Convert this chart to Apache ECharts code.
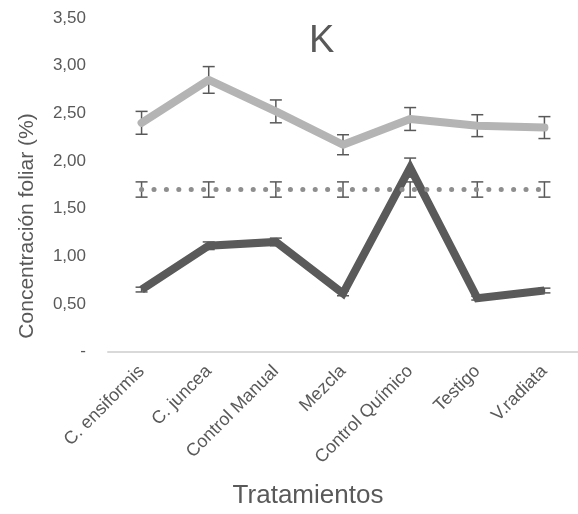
<!DOCTYPE html>
<html>
<head>
<meta charset="utf-8">
<script src="https://cdn.jsdelivr.net/npm/echarts@6/dist/echarts.min.js"></script>
<style>html,body{margin:0;padding:0;background:#fff}#c{width:578px;height:514px}</style>
</head>
<body>
<div id="c"></div>
<script>
var categories = ['C. ensiformis','C. juncea','Control Manual','Mezcla','Control Químico','Testigo','V.radiata'];
var lightValues = [2.40, 2.85, 2.52, 2.17, 2.44, 2.37, 2.35];
var lightErrors = [0.12, 0.14, 0.12, 0.105, 0.12, 0.115, 0.115];
var dottedValues = [1.70, 1.70, 1.70, 1.70, 1.70, 1.70, 1.70];
var dottedErrors = [0.08, 0.08, 0.08, 0.08, 0.08, 0.08, 0.08];
var darkValues = [0.65, 1.11, 1.15, 0.61, 1.93, 0.56, 0.64];
var darkErrors = [0.025, 0.04, 0.04, 0.025, 0.1, 0.02, 0.025];
var yTicks = [0, 0.5, 1, 1.5, 2, 2.5, 3, 3.5];

var font = 'Liberation Sans, Arial, sans-serif';
var textColor = '#595959';

function errData(vals, errs) {
  return vals.map(function (v, i) { return [i, v - errs[i], v + errs[i]]; });
}
function errSeries(vals, errs) {
  return {
    type: 'custom',
    z: 1,
    silent: true,
    data: errData(vals, errs),
    renderItem: function (params, api) {
      var lo = api.coord([api.value(0), api.value(1)]);
      var hi = api.coord([api.value(0), api.value(2)]);
      var hw = 6;
      var st = { stroke: '#595959', lineWidth: 1.5 };
      return {
        type: 'group',
        children: [
          { type: 'line', shape: { x1: lo[0], y1: lo[1], x2: hi[0], y2: hi[1] }, style: st },
          { type: 'line', shape: { x1: lo[0] - hw, y1: lo[1], x2: lo[0] + hw, y2: lo[1] }, style: st },
          { type: 'line', shape: { x1: hi[0] - hw, y1: hi[1], x2: hi[0] + hw, y2: hi[1] }, style: st }
        ]
      };
    }
  };
}

var chart = echarts.init(document.getElementById('c'), null, { renderer: 'canvas' });
chart.setOption({
  animation: false,
  backgroundColor: '#ffffff',
  textStyle: { fontFamily: font },
  grid: { left: 108, top: 18, width: 477, height: 333.5, containLabel: false },
  xAxis: {
    type: 'category',
    data: categories,
    boundaryGap: true,
    axisTick: { show: false },
    axisLine: { lineStyle: { color: '#d9d9d9', width: 2 } },
    axisLabel: { rotate: 45, margin: 17, fontSize: 18, color: textColor, fontFamily: font, interval: 0 },
    splitLine: { show: false }
  },
  yAxis: {
    type: 'value',
    min: yTicks[0],
    max: yTicks[yTicks.length - 1],
    interval: 0.5,
    axisLine: { show: false },
    axisTick: { show: false },
    splitLine: { show: false },
    axisLabel: {
      margin: 22, fontSize: 17, color: textColor, fontFamily: font,
      formatter: function (v) { return v === 0 ? '-' : v.toFixed(2).replace('.', ','); }
    }
  },
  graphic: [
    { type: 'text', left: 309, top: 23, style: { text: 'K', fontSize: 38, fill: textColor, fontFamily: font } },
    { type: 'text', x: 27, y: 226, rotation: Math.PI / 2,
      style: { text: 'Concentración foliar (%)', fontSize: 21, fill: textColor, fontFamily: font, align: 'center', verticalAlign: 'middle' } },
    { type: 'text', x: 308, y: 496,
      style: { text: 'Tratamientos', fontSize: 26, fill: textColor, fontFamily: font, align: 'center', verticalAlign: 'middle' } }
  ],
  series: [
    errSeries(darkValues, darkErrors),
    errSeries(dottedValues, dottedErrors),
    errSeries(lightValues, lightErrors),
    {
      type: 'line', z: 2, data: darkValues, symbol: 'none',
      lineStyle: { color: '#5a5a5a', width: 8, join: 'miter' }
    },
    {
      type: 'line', z: 3, data: dottedValues, symbol: 'none',
      lineStyle: { color: '#8e8e8e', width: 5, type: [0.1, 12.3], cap: 'round' }
    },
    {
      type: 'line', z: 2, data: lightValues, symbol: 'none',
      lineStyle: { color: '#b4b4b4', width: 8, join: 'round', cap: 'round' }
    }
  ]
});
</script>
</body>
</html>
